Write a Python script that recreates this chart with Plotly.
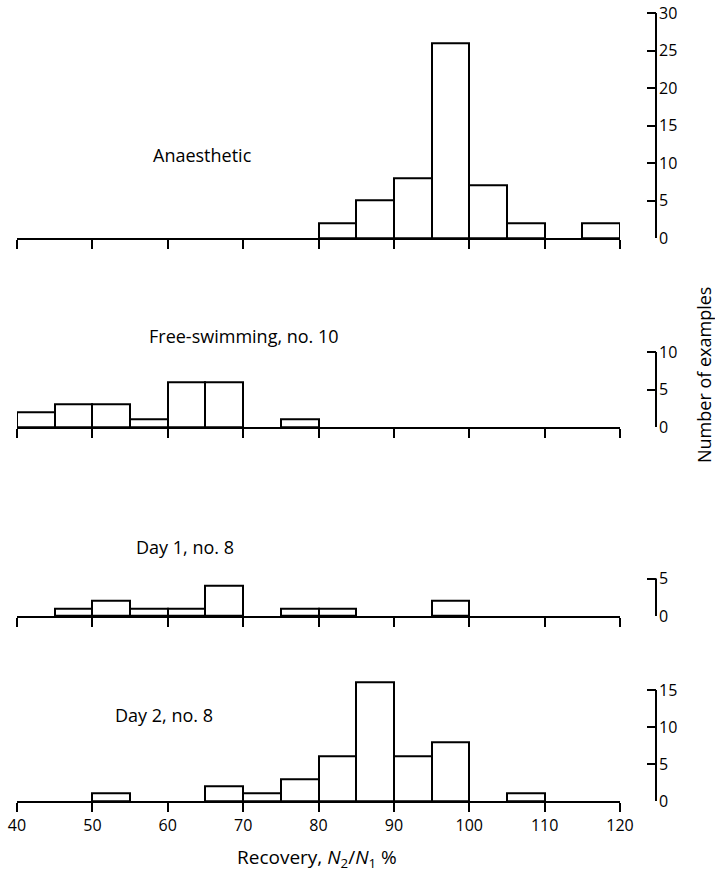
import plotly.graph_objects as go

# ---- data ----
bin_left = [40, 45, 50, 55, 60, 65, 70, 75, 80, 85, 90, 95, 100, 105, 110, 115]
bin_width = 5
anaesthetic = [0, 0, 0, 0, 0, 0, 0, 0, 2, 5, 8, 26, 7, 2, 0, 2]
free_swimming = [2, 3, 3, 1, 6, 6, 0, 1, 0, 0, 0, 0, 0, 0, 0, 0]
day1 = [0, 1, 2, 1, 1, 4, 0, 1, 1, 0, 0, 2, 0, 0, 0, 0]
day2 = [0, 0, 1, 0, 0, 2, 1, 3, 6, 16, 6, 8, 0, 1, 0, 0]

panel_names = ["Anaesthetic", "Free-swimming, no. 10", "Day 1, no. 8", "Day 2, no. 8"]
panel_values = [anaesthetic, free_swimming, day1, day2]
y_ticks = [[0, 5, 10, 15, 20, 25, 30], [0, 5, 10], [0, 5], [0, 5, 10, 15]]
x_ticks = [40, 50, 60, 70, 80, 90, 100, 110, 120]

# ---- layout geometry (pixels) ----
W, H = 715, 874
FONT = "Open Sans"
# baseline pixel, pixels per unit, top of range (units)
panels_geo = [(238, 7.5, 30.5), (427, 7.5, 10.5), (616, 7.5, 5.5), (801, 7.4, 17)]
x_left_px, x_right_px = 17, 620
yaxis_px = 656
label_pos = [(202, 155), (244, 336), (185, 547), (164, 715)]

fig = go.Figure()
centers = [b + bin_width / 2 for b in bin_left]

layout = dict(
    width=W, height=H, margin=dict(l=0, r=0, t=0, b=0, autoexpand=False),
    paper_bgcolor="white", plot_bgcolor="white",
    showlegend=False, bargap=0,
    font=dict(family=FONT, size=16, color="black"),
)
shapes = []
annotations = []

for i, (vals, (base, ppu, top), yt) in enumerate(zip(panel_values, panels_geo, y_ticks)):
    n = i + 1
    xs = "x" if n == 1 else f"x{n}"
    ys = "y" if n == 1 else f"y{n}"
    xv = [c for c, v in zip(centers, vals) if v > 0]
    yv = [v for v in vals if v > 0]
    fig.add_trace(go.Bar(
        x=xv, y=yv, width=bin_width, xaxis=xs, yaxis=ys,
        marker=dict(color="white", line=dict(color="black", width=2)),
        hoverinfo="x+y",
    ))
    d0 = 1 - base / H
    d1 = 1 - (base - top * ppu) / H
    layout["xaxis" if n == 1 else f"xaxis{n}"] = dict(
        domain=[x_left_px / W, x_right_px / W], range=[40, 120],
        anchor=ys, showline=True, linecolor="black", linewidth=2,
        ticks="outside", ticklen=9, tickwidth=2, tickcolor="black",
        tickvals=x_ticks, showticklabels=(n == 4), showgrid=False, zeroline=False,
        tickfont=dict(family=FONT, size=16), automargin=False,
    )
    layout["yaxis" if n == 1 else f"yaxis{n}"] = dict(
        domain=[d0, d1], range=[0, top], anchor="free", position=yaxis_px / W,
        side="right", showline=False, ticks="inside", ticklen=9, tickwidth=2,
        tickcolor="black", tickvals=yt, showgrid=False, zeroline=False,
        tickfont=dict(family=FONT, size=16), ticklabelstandoff=2, automargin=False,
    )
    shapes.append(dict(type="line", xref="paper", yref=ys,
                       x0=yaxis_px / W, x1=yaxis_px / W, y0=0, y1=yt[-1],
                       line=dict(color="black", width=2)))
    lx, ly = label_pos[i]
    annotations.append(dict(text=panel_names[i], xref="paper", yref="paper",
                            x=lx / W, y=1 - ly / H, showarrow=False,
                            xanchor="center", yanchor="middle",
                            font=dict(family=FONT, size=18)))

annotations.append(dict(text="Recovery, <i>N</i><sub>2</sub>/<i>N</i><sub>1</sub> %",
                        xref="paper", yref="paper", x=317 / W, y=1 - 858 / H,
                        showarrow=False, xanchor="center", yanchor="middle",
                        font=dict(family=FONT, size=19)))
annotations.append(dict(text="Number of examples", xref="paper", yref="paper",
                        x=704 / W, y=1 - 375 / H, textangle=-90, showarrow=False,
                        xanchor="center", yanchor="middle",
                        font=dict(family=FONT, size=18)))

layout["shapes"] = shapes
layout["annotations"] = annotations
fig.update_layout(**layout)
fig.write_html("out.html")
